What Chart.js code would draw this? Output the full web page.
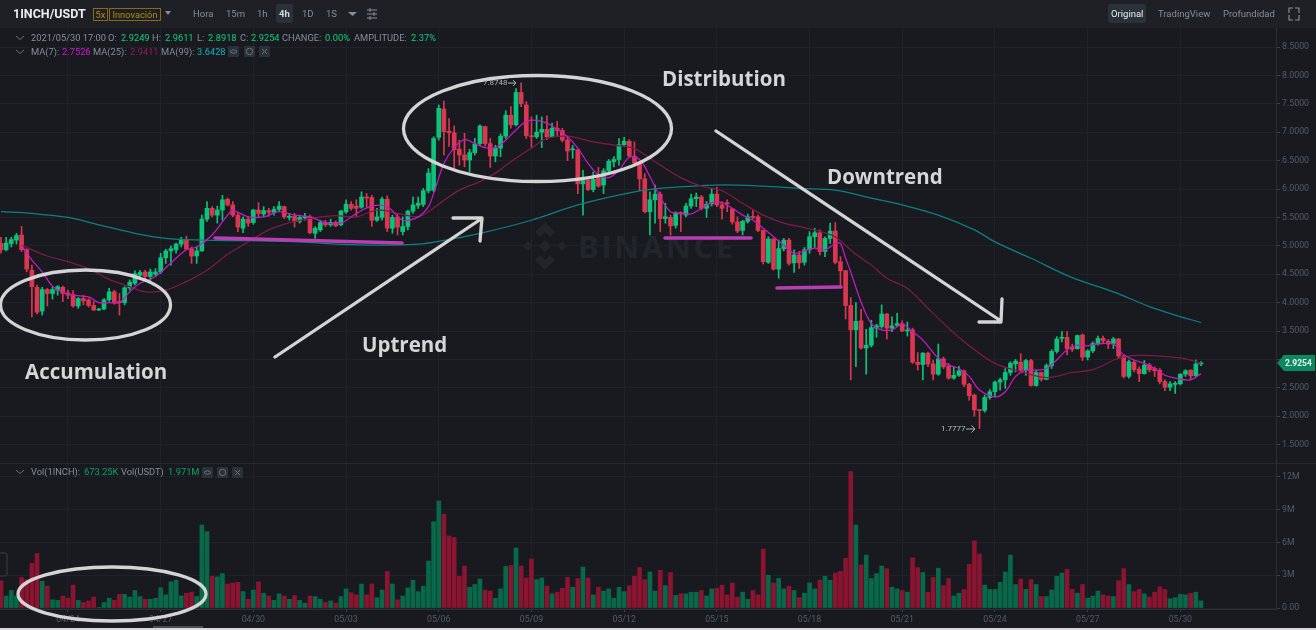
<!DOCTYPE html>
<html><head><meta charset="utf-8">
<script src="https://cdn.jsdelivr.net/npm/chart.js@4"></script>
<style>
html,body{margin:0;padding:0;width:1316px;height:630px;overflow:hidden;background:#d9d9d9}
#app{position:absolute;left:0;top:0;width:1316px;height:628px;background:#181a20;overflow:hidden;font-family:Roboto,"Noto Sans",sans-serif}
#bar{position:absolute;left:0;top:0;width:1316px;height:28px;background:#1e2026}
.t{position:absolute;white-space:nowrap;line-height:12px;font-size:9.3px;color:#848e9c}
.b{font-size:9.5px}
.g{color:#0ecb81}
.note{position:absolute;white-space:nowrap;font-family:"Open Sans",sans-serif;font-weight:700;color:#d6d6d6;font-size:20.5px;line-height:26px}
canvas{position:absolute;left:0}
svg{position:absolute;left:0;top:0;pointer-events:none}
#mark{position:absolute;left:578px;top:226px;font:700 31px/40px "Open Sans",sans-serif;letter-spacing:2.5px;color:#22252b}
.box{position:absolute;background:#2b3139;border-radius:2px}
.ic{position:absolute;width:11px;height:11px;background:#2b3139;border-radius:1px}
</style></head><body>
<div id="app">
<div id="bar"></div>
<div id="mark">BINANCE</div>
<svg width="1316" height="628">
 <g fill="#22252b" transform="translate(545 246)">
  <polygon points="0,-24 10,-14 5,-9 0,-14 -5,-9 -10,-14"/><polygon points="0,24 10,14 5,9 0,14 -5,9 -10,14"/>
  <polygon points="-17,-5 -12,0 -17,5 -22,0"/><polygon points="17,-5 22,0 17,5 12,0"/><polygon points="0,-6 6,0 0,6 -6,0"/>
 </g>
</svg>
<canvas id="priceChart" width="1316" height="435" style="top:28px"></canvas>
<canvas id="volChart" width="1316" height="164" style="top:464px"></canvas>
<div style="position:absolute;left:0;top:463px;width:1316px;height:1px;background:#262a31"></div>
<div class="box" style="left:276px;top:4px;width:17px;height:19px"></div>
<div class="box" style="left:1108px;top:4px;width:38px;height:19px"></div>
<div class="ic" style="left:228px;top:46px"></div><div class="ic" style="left:244px;top:46px"></div><div class="ic" style="left:259px;top:46px"></div>
<div class="ic" style="left:202px;top:467px"></div><div class="ic" style="left:217px;top:467px"></div><div class="ic" style="left:232px;top:467px"></div>

<svg width="1316" height="628" id="over">
 <polygon points="1277,363 1284,355 1315,355 1315,371 1284,371" fill="#0a8a5f"/>
 <g id="chev" fill="none" stroke="#6b7280" stroke-width="1">
  <path d="M16 36l4 3.5 4-3.5M16 50l4 3.5 4-3.5M16 470l4 3.500 4-3.500"/>
  <path d="M230 51.500q3.500-3.500 7 0q-3.500 3.500-7 0M204 472.500q3.500-3.500 7 0q-3.500 3.500-7 0"/>
  <circle cx="249.500" cy="51.500" r="3.200"/><circle cx="222.500" cy="472.500" r="3.200"/>
  <path d="M262 49l5 5m0-5l-5 5M235 470l5 5m0-5l-5 5"/>
  <path d="M1289 13v-5h4M1295 8h4v5M1289 15v5h4M1295 20h4v-5" stroke="#848e9c" stroke-width="1.2"/>
  <path d="M367 10h10M367 14h10M367 18h10M370 8v4M374 12v4M370 16v4" stroke="#848e9c"/>
  <path d="M3 561l3 3-3 3" stroke="#848e9c"/>
 </g>
 <polygon points="165,11 171,11 168,15" fill="#848e9c"/><polygon points="348,12 357,12 352.5,16" fill="#848e9c"/>
 <rect x="-3" y="553" width="10" height="23" rx="2" fill="#181a20" stroke="#3a3f47"/>
 <rect x="153" y="626" width="50" height="2" fill="#474d57"/>
 <g fill="none" stroke="#aeb4bc" stroke-width="1"><path d="M508 83h8m-3-3l3 3-3 3"/><path d="M966 429h9m-3.500-3.500l3.500 3.500-3.500 3.500"/></g>
 <g fill="none" stroke="#b93db5" stroke-width="3.600" stroke-linecap="round">
  <path d="M215 238L402 243"/><path d="M665 238H751"/><path d="M777 288L841 287"/>
 </g>
 <g fill="none" stroke="#d4d4d4" stroke-width="3.300" stroke-linecap="round" stroke-linejoin="round">
  <ellipse cx="85.500" cy="305" rx="85" ry="35"/>
  <ellipse cx="537.500" cy="128.500" rx="134" ry="53"/>
  <ellipse cx="112" cy="594" rx="94" ry="27"/>
  <path d="M275 357L481 219M453 218H482L480 241"/>
  <path d="M716 131L1001 321M1002 299L1001 322H979"/>
 </g>
</svg>
<span class="t" style="left:13px;top:8px;font-size:12.5px;font-weight:700;color:#eaecef">1INCH/USDT</span>
<span class="t" style="left:93px;top:8px;width:15px;border:1px solid #8a6a10;text-align:center;color:#b58a12;line-height:11px;box-sizing:border-box;height:13px">5x</span>
<span class="t" style="left:109px;top:8px;width:52px;border:1px solid #8a6a10;text-align:center;color:#b58a12;line-height:11px;box-sizing:border-box;height:13px">Innovación</span>
<span class="t b" style="left:193px;top:8px">Hora</span>
<span class="t b" style="left:226px;top:8px">15m</span>
<span class="t b" style="left:257px;top:8px">1h</span>
<span class="t b" style="left:279px;top:8px;color:#d5d8dc;font-weight:700">4h</span>
<span class="t b" style="left:302px;top:8px">1D</span>
<span class="t b" style="left:326px;top:8px">1S</span>
<span class="t b" style="left:1111px;top:8px;color:#eaecef">Original</span>
<span class="t b" style="left:1158px;top:8px">TradingView</span>
<span class="t b" style="left:1223px;top:8px">Profundidad</span>

<span class="t" style="left:31px;top:32px">2021/05/30 17:00</span>
<span class="t" style="left:108px;top:32px">O:</span><span class="t g" style="left:121px;top:32px">2.9249</span>
<span class="t" style="left:152px;top:32px">H:</span><span class="t g" style="left:165px;top:32px">2.9611</span>
<span class="t" style="left:197px;top:32px">L:</span><span class="t g" style="left:208px;top:32px">2.8918</span>
<span class="t" style="left:240px;top:32px">C:</span><span class="t g" style="left:251px;top:32px">2.9254</span>
<span class="t" style="left:282px;top:32px">CHANGE:</span><span class="t g" style="left:325px;top:32px">0.00%</span>
<span class="t" style="left:354px;top:32px">AMPLITUDE:</span><span class="t g" style="left:411px;top:32px">2.37%</span>
<span class="t" style="left:31px;top:46px">MA(7):</span><span class="t" style="left:62px;top:46px;color:#d414d4">2.7526</span>
<span class="t" style="left:93px;top:46px">MA(25):</span><span class="t" style="left:130px;top:46px;color:#8f1d50">2.9411</span>
<span class="t" style="left:161px;top:46px">MA(99):</span><span class="t" style="left:197px;top:46px;color:#0bb4b8">3.6428</span>
<span class="t" style="left:31px;top:466px">Vol(1INCH):</span><span class="t g" style="left:84px;top:466px;color:#0aa06a">673.25K</span>
<span class="t" style="left:121px;top:466px">Vol(USDT)</span><span class="t g" style="left:168px;top:466px;color:#0aa06a">1.971M</span>

<span class="t" style="left:483px;top:77px;font-size:8px;color:#aeb4bc">7.8748</span>
<span class="t" style="left:941px;top:423px;font-size:8px;color:#b7bdc6">1.7777</span>
<span class="t" style="left:1285px;top:357px;font-size:8.500px;font-weight:700;color:#eef5f2">2.9254</span>
<span class="note" style="left:25px;top:358px">Accumulation</span>
<span class="note" style="left:362px;top:331px">Uptrend</span>
<span class="note" style="left:662px;top:65px">Distribution</span>
<span class="note" style="left:827px;top:163px">Downtrend</span>
</div>
<script>
const opens=[5.04,4.93,5.04,5.10,5.19,4.93,4.57,4.27,3.85,4.23,4.16,4.22,4.27,4.17,4.14,3.94,4.07,4.05,3.95,3.87,3.89,4.05,4.19,4.02,4.00,4.26,4.34,4.48,4.54,4.46,4.50,4.54,4.79,4.91,4.93,5.03,5.11,4.94,4.82,4.91,5.47,5.66,5.54,5.63,5.82,5.72,5.54,5.31,5.47,5.41,5.63,5.56,5.62,5.59,5.64,5.69,5.50,5.52,5.43,5.49,5.51,5.22,5.28,5.41,5.37,5.41,5.37,5.60,5.73,5.70,5.68,5.86,5.85,5.45,5.50,5.82,5.31,5.51,5.25,5.34,5.61,5.71,5.73,5.97,5.98,6.91,7.41,7.02,6.99,6.70,6.60,6.51,6.64,6.80,7.10,6.80,6.58,6.72,6.93,7.30,7.13,7.70,7.48,6.94,6.92,7.00,7.05,6.92,7.07,7.03,6.86,6.69,6.69,6.09,6.16,5.99,6.20,6.07,6.32,6.48,6.52,6.78,6.84,6.58,6.45,6.18,5.60,5.81,5.91,5.48,5.50,5.36,5.58,5.54,5.70,5.83,5.86,5.66,5.74,5.91,5.72,5.76,5.65,5.42,5.27,5.43,5.52,5.51,5.27,4.71,5.12,4.59,4.95,5.10,4.70,4.84,4.71,4.93,5.16,5.23,4.90,5.13,5.26,4.72,4.56,3.95,3.52,3.68,3.20,3.25,3.55,3.58,3.80,3.55,3.60,3.63,3.50,3.52,2.95,2.91,3.11,2.92,2.74,3.01,2.88,2.67,2.72,2.80,2.56,2.37,2.11,2.10,2.33,2.43,2.60,2.64,2.77,2.92,2.95,2.81,2.98,2.54,2.77,2.65,2.89,3.14,3.37,3.39,3.21,3.19,3.43,3.04,3.15,3.28,3.37,3.32,3.28,3.36,3.06,2.70,2.95,2.83,2.75,2.90,2.84,2.81,2.61,2.51,2.56,2.57,2.74,2.81,2.71,2.92];
const closes=[4.93,5.05,5.11,5.18,4.93,4.59,4.28,3.83,4.23,4.16,4.23,4.28,4.16,4.13,3.94,4.07,4.03,3.95,3.87,3.88,4.05,4.19,4.00,4.00,4.26,4.36,4.51,4.53,4.46,4.54,4.54,4.79,4.91,4.95,5.03,5.11,4.94,4.82,4.91,5.47,5.66,5.54,5.63,5.81,5.72,5.54,5.33,5.47,5.40,5.63,5.57,5.62,5.59,5.64,5.70,5.51,5.52,5.43,5.50,5.52,5.23,5.31,5.41,5.37,5.41,5.35,5.61,5.73,5.66,5.66,5.86,5.84,5.45,5.51,5.82,5.31,5.50,5.33,5.34,5.61,5.72,5.75,5.97,6.28,6.89,7.42,7.01,6.99,6.69,6.60,6.51,6.64,6.79,7.11,6.80,6.58,6.72,6.93,7.30,7.13,7.70,7.50,6.94,6.92,7.00,7.05,6.92,7.07,7.03,6.86,6.67,6.70,6.09,6.15,5.99,6.17,6.05,6.32,6.49,6.52,6.78,6.84,6.58,6.46,6.18,5.60,5.81,5.91,5.48,5.51,5.35,5.57,5.56,5.70,5.83,5.86,5.66,5.73,5.91,5.72,5.66,5.74,5.42,5.26,5.43,5.51,5.50,5.27,4.72,5.12,4.59,4.95,5.10,4.69,4.84,4.70,4.93,5.16,5.23,4.90,5.13,5.26,4.71,4.56,3.95,3.52,3.67,3.20,3.25,3.56,3.59,3.80,3.55,3.59,3.63,3.50,3.52,2.95,2.91,3.11,2.92,2.74,3.01,2.87,2.67,2.72,2.80,2.56,2.36,2.11,2.10,2.33,2.43,2.60,2.64,2.77,2.93,2.97,2.81,2.98,2.54,2.77,2.65,2.89,3.14,3.36,3.39,3.19,3.18,3.42,3.04,3.15,3.28,3.37,3.33,3.27,3.36,3.06,2.70,2.96,2.82,2.75,2.90,2.82,2.80,2.61,2.51,2.57,2.58,2.74,2.80,2.71,2.92,2.93];
const highs=[5.15,5.15,5.15,5.22,5.34,4.95,4.66,4.31,4.27,4.25,4.27,4.30,4.29,4.22,4.21,4.09,4.13,4.07,4.02,3.90,4.07,4.25,4.22,4.16,4.28,4.40,4.56,4.57,4.57,4.59,4.60,4.87,4.94,5.00,5.05,5.15,5.17,4.98,4.98,5.54,5.78,5.69,5.70,5.89,5.84,5.78,5.57,5.51,5.51,5.64,5.76,5.69,5.66,5.69,5.78,5.70,5.57,5.57,5.54,5.57,5.54,5.34,5.45,5.45,5.47,5.44,5.63,5.81,5.78,5.81,5.95,5.92,5.89,5.66,5.86,5.88,5.54,5.57,5.51,5.63,5.86,5.86,6.01,6.36,6.92,7.48,7.55,7.24,7.11,6.86,6.98,6.70,6.89,7.13,7.11,6.89,6.77,6.97,7.38,7.45,7.77,7.87,7.54,7.27,7.30,7.27,7.29,7.16,7.19,7.07,6.92,6.77,6.70,6.33,6.20,6.30,6.38,6.36,6.52,6.57,6.89,6.91,6.87,6.83,6.48,6.27,5.95,6.07,5.95,5.75,5.54,5.60,5.60,5.75,5.91,5.93,5.89,5.78,6.01,6.03,5.78,5.81,5.66,5.51,5.45,5.56,5.63,5.54,5.28,5.16,5.13,5.10,5.13,5.13,4.93,4.90,4.97,5.25,5.31,5.28,5.16,5.40,5.41,4.81,4.57,4.09,4.00,3.88,3.53,3.69,3.62,3.96,3.81,3.75,3.81,3.68,3.66,3.55,3.12,3.12,3.13,2.99,3.27,3.04,2.93,2.87,2.88,2.81,2.58,2.39,2.11,2.37,2.47,2.62,2.67,2.84,2.96,3.00,3.10,3.00,3.00,2.81,2.78,2.92,3.17,3.40,3.49,3.49,3.27,3.43,3.45,3.17,3.31,3.41,3.41,3.35,3.39,3.37,3.08,2.99,2.98,2.87,2.98,2.93,2.87,2.84,2.64,2.61,2.61,2.75,2.82,2.82,2.99,2.96];
const lows=[4.87,4.91,4.98,5.03,4.90,4.54,3.75,3.80,3.78,3.94,4.06,4.13,4.02,4.07,3.92,3.90,3.96,3.92,3.86,3.86,3.87,4.02,3.97,3.78,3.96,4.22,4.31,4.43,4.39,4.37,4.46,4.51,4.69,4.66,4.87,4.98,4.93,4.69,4.69,4.90,5.43,5.51,5.40,5.45,5.70,5.51,5.25,5.23,5.34,5.38,5.51,5.51,5.52,5.54,5.62,5.48,5.45,5.33,5.40,5.45,5.21,5.13,5.25,5.34,5.34,5.34,5.35,5.57,5.63,5.51,5.66,5.69,5.34,5.43,5.45,5.25,5.22,5.19,5.19,5.28,5.57,5.66,5.69,5.93,5.95,6.86,6.60,6.75,6.36,6.42,6.39,6.30,6.60,6.77,6.76,6.38,6.48,6.57,6.89,7.07,7.11,7.45,6.89,6.73,6.89,6.73,6.87,6.91,6.92,6.83,6.50,6.54,5.92,5.54,5.97,5.95,6.03,5.92,6.25,6.39,6.42,6.76,6.57,6.44,5.97,5.58,5.19,5.40,5.25,5.40,5.19,5.31,5.25,5.51,5.66,5.69,5.63,5.50,5.70,5.69,5.47,5.60,5.38,5.23,5.19,5.40,5.47,5.25,4.68,4.69,4.57,4.43,4.91,4.66,4.53,4.60,4.66,4.87,4.97,4.84,4.81,5.04,4.68,4.28,3.71,2.64,2.87,3.18,2.74,3.22,3.39,3.55,3.36,3.49,3.58,3.49,3.41,2.93,2.81,2.64,2.87,2.64,2.72,2.84,2.65,2.65,2.70,2.52,2.28,2.00,1.78,2.07,2.30,2.34,2.46,2.49,2.72,2.78,2.78,2.72,2.53,2.53,2.62,2.64,2.84,3.11,3.31,3.08,3.14,3.18,2.98,2.99,3.12,3.25,3.28,3.19,3.19,3.02,2.67,2.67,2.78,2.61,2.74,2.78,2.70,2.57,2.45,2.45,2.40,2.55,2.70,2.64,2.70,2.89];
const volumes=[2.5,1.1,1.6,1.1,2.8,2.6,4.1,5.0,2.45,2.0,0.75,0.7,1.1,0.9,2.1,0.7,0.5,0.65,1.0,0.05,0.5,0.9,0.7,1.25,1.25,1.0,1.6,1.05,0.8,0.8,0.9,1.85,1.2,2.4,2.55,1.1,1.35,1.45,1.05,7.6,7.0,2.9,2.85,3.15,2.2,2.3,2.35,1.5,0.8,1.65,2.4,1.35,1.1,0.7,1.3,1.1,0.8,1.15,0.7,0.45,1.1,1.05,0.8,0.5,0.65,0.45,1.05,1.75,1.4,1.2,2.2,1.2,2.2,0.95,1.65,3.35,2.2,0.75,1.1,1.85,2.55,1.5,2.0,4.3,7.9,9.8,8.6,6.6,6.45,2.9,3.85,1.9,2.15,2.65,1.65,1.55,0.9,1.75,3.8,3.9,5.5,3.85,2.75,4.5,2.6,2.75,2.0,1.3,1.45,1.8,2.8,1.9,2.7,3.75,2.75,1.2,1.9,1.55,1.75,0.9,1.9,1.5,2.05,2.9,3.7,2.6,3.3,1.55,3.45,2.05,3.25,1.15,1.3,1.3,1.45,1.45,1.6,1.1,1.75,1.8,2.1,1.2,2.3,1.0,1.45,0.8,1.6,1.2,5.4,3.0,2.3,2.7,1.75,2.0,1.6,0.95,1.35,2.3,1.75,2.55,2.9,2.55,3.2,3.35,4.55,12.5,7.6,3.95,4.85,2.7,3.15,3.85,3.6,1.9,1.75,1.6,1.45,4.6,3.7,3.25,1.45,2.8,3.65,2.05,2.7,1.1,1.35,1.7,4.0,6.15,4.95,2.1,1.7,1.7,2.35,3.3,4.85,2.15,2.65,1.7,2.6,2.15,1.05,1.05,1.65,2.9,3.2,3.55,1.7,1.35,2.15,0.9,1.1,1.55,1.2,1.1,1.05,2.5,3.6,2.15,1.5,1.7,1.3,1.0,1.45,1.95,1.7,0.85,0.95,1.25,1.2,1.35,1.45,0.65];
const ma7Idx=[4,6,8,10,12,14,17,19,21,23,25,27,30,33,36,38,41,44,45,48,51,54,57,60,63,66,69,72,75,78,81,83,84,86,88,90,92,94,96,98,100,102,104,106,108,110,112,114,116,118,120,122,124,126,128,130,132,134,136,138,140,142,144,146,148,150,152,154,156,158,160,162,163,164,165,167,169,171,173,175,177,179,182,184,186,188,190,193,195,197,199,201,203,205,207,209,211,213,216,218,220,222,224,226,228,231,233];
const ma7Vals=[5.01,4.75,4.54,4.29,4.18,4.13,4.10,4.00,4.00,4.00,4.19,4.34,4.46,4.70,4.93,4.98,5.19,5.54,5.62,5.51,5.51,5.60,5.54,5.51,5.41,5.40,5.57,5.70,5.69,5.45,5.51,5.69,5.92,6.45,6.73,6.87,6.80,6.73,6.73,6.86,7.04,7.19,7.21,7.16,7.05,6.92,6.72,6.45,6.25,6.20,6.33,6.56,6.52,6.22,5.86,5.60,5.58,5.56,5.66,5.76,5.76,5.66,5.54,5.45,5.31,5.16,5.01,4.87,4.91,4.96,4.93,5.04,5.04,4.78,4.54,4.01,3.63,3.52,3.52,3.62,3.49,3.34,3.02,2.90,2.84,2.70,2.46,2.34,2.43,2.70,2.81,2.81,2.84,2.99,3.17,3.25,3.24,3.27,3.27,3.08,2.99,2.93,2.84,2.72,2.67,2.64,2.75];
const ma25Idx=[4,9,13,17,21,25,28,32,36,40,44,48,52,56,60,65,69,73,77,81,83,86,89,93,96,99,103,106,110,115,120,123,127,132,136,140,144,148,152,156,160,162,166,169,172,176,180,184,189,193,197,203,208,212,217,221,226,230,233];
const ma25Vals=[5.01,4.82,4.72,4.60,4.41,4.28,4.19,4.22,4.37,4.57,4.85,5.07,5.28,5.41,5.48,5.53,5.51,5.63,5.57,5.51,5.60,5.80,5.98,6.13,6.28,6.48,6.72,6.89,6.93,6.83,6.76,6.71,6.48,6.20,6.05,5.97,5.75,5.54,5.40,5.32,5.23,5.16,4.85,4.66,4.43,4.25,3.90,3.55,3.17,2.93,2.81,2.68,2.77,2.82,3.02,3.07,3.05,3.01,2.93];
const ma99Idx=[0,6,13,19,26,32,39,48,58,65,74,81,85,93,103,112,123,129,139,148,155,162,169,175,182,189,193,200,208,216,223,228,233];
const ma99Vals=[5.60,5.57,5.50,5.37,5.22,5.13,5.10,5.09,5.07,5.03,5.01,5.03,5.08,5.22,5.45,5.72,5.95,6.02,6.07,6.05,6.01,5.98,5.84,5.72,5.54,5.28,5.07,4.78,4.44,4.19,3.93,3.78,3.65];
const dateTicks=[13,31,49,67,85,103,121,139,157,175,193,211,229];
const dateLabels=['04/24','04/27','04/30','05/03','05/06','05/09','05/12','05/15','05/18','05/21','05/24','05/27','05/30'];
const priceTicks=[1.5,2,2.5,3,3.5,4,4.5,5,5.5,6,6.5,7,7.5,8,8.5];
const volTicks=[0,3,6,9,12];
const volTickLabels=['0.00','3M','6M','9M','12M'];

const UP='#0bc37c',DOWN='#dc3750',UPV='#08694a',DOWNV='#8b1431';
const GRID='#1f2228',TXT='#555b66',FONT={family:'Roboto, "Noto Sans", sans-serif',size:8.8};
const isUp=i=>closes[i]>=opens[i];
const noPad=s=>{s.paddingTop=0;s.paddingBottom=0;s.paddingLeft=0;s.paddingRight=0;};
const xBase=(labels)=>({type:'linear',offset:false,min:-0.194,max:247.57,
  afterBuildTicks:s=>{s.ticks=dateTicks.map(v=>({value:v}));},
  grid:{color:GRID,drawTicks:labels,tickLength:3,tickColor:'#3a3f47',offset:false},
  border:{display:labels,color:'#2b2f36'},
  ticks:{display:labels,autoSkip:false,maxRotation:0,color:TXT,font:FONT,padding:3,
    callback:v=>dateLabels[dateTicks.indexOf(v)]},
  afterFit:s=>{s.height=labels?19:0;noPad(s);}});
const yBase=(min,max,ticks,cb)=>({type:'linear',position:'right',min,max,
  afterBuildTicks:s=>{s.ticks=ticks.map(v=>({value:v}));},
  grid:{color:GRID,tickLength:4,tickColor:'#3a3f47'},
  border:{color:'#2b2f36'},
  ticks:{color:TXT,font:FONT,padding:2,autoSkip:false,callback:cb},
  afterFit:s=>{s.width=40;noPad(s);}});
const common={responsive:false,animation:false,events:[],layout:{padding:0},
  plugins:{legend:{display:false},tooltip:{enabled:false}}};
const idx=opens.map((_,i)=>i);
const pts=(a,b)=>a.map((x,i)=>({x,y:b[i]}));
const maSet=(label,a,b,color)=>({type:'line',label,data:pts(a,b),borderColor:color,borderWidth:1.25,pointRadius:0,tension:0.35,order:0});

new Chart(document.getElementById('priceChart'),{type:'bar',data:{datasets:[
  maSet('MA(7)',ma7Idx,ma7Vals,'#c719c7'),
  maSet('MA(25)',ma25Idx,ma25Vals,'#7e1a48'),
  maSet('MA(99)',ma99Idx,ma99Vals,'#0c8082'),
  {label:'body',data:idx.map(i=>({x:i,y:[opens[i],closes[i]]})),barThickness:4,grouped:false,order:1,
   minBarLength:1,backgroundColor:idx.map(i=>isUp(i)?UP:DOWN)},
  {label:'wick',data:idx.map(i=>({x:i,y:[lows[i],highs[i]]})),barThickness:1,grouped:false,order:2,
   backgroundColor:idx.map(i=>isUp(i)?UP:DOWN)}
 ]},options:{...common,scales:{x:xBase(false),y:yBase(1.176,8.835,priceTicks,v=>v.toFixed(4))}}});

new Chart(document.getElementById('volChart'),{type:'bar',data:{datasets:[
  {label:'Vol',data:idx.map(i=>({x:i,y:volumes[i]})),barThickness:4,grouped:false,
   backgroundColor:idx.map(i=>isUp(i)?UPV:DOWNV)}
 ]},options:{...common,scales:{x:xBase(true),y:yBase(-0.09,13.19,volTicks,v=>volTickLabels[volTicks.indexOf(v)])}}});
</script>
</body></html>
